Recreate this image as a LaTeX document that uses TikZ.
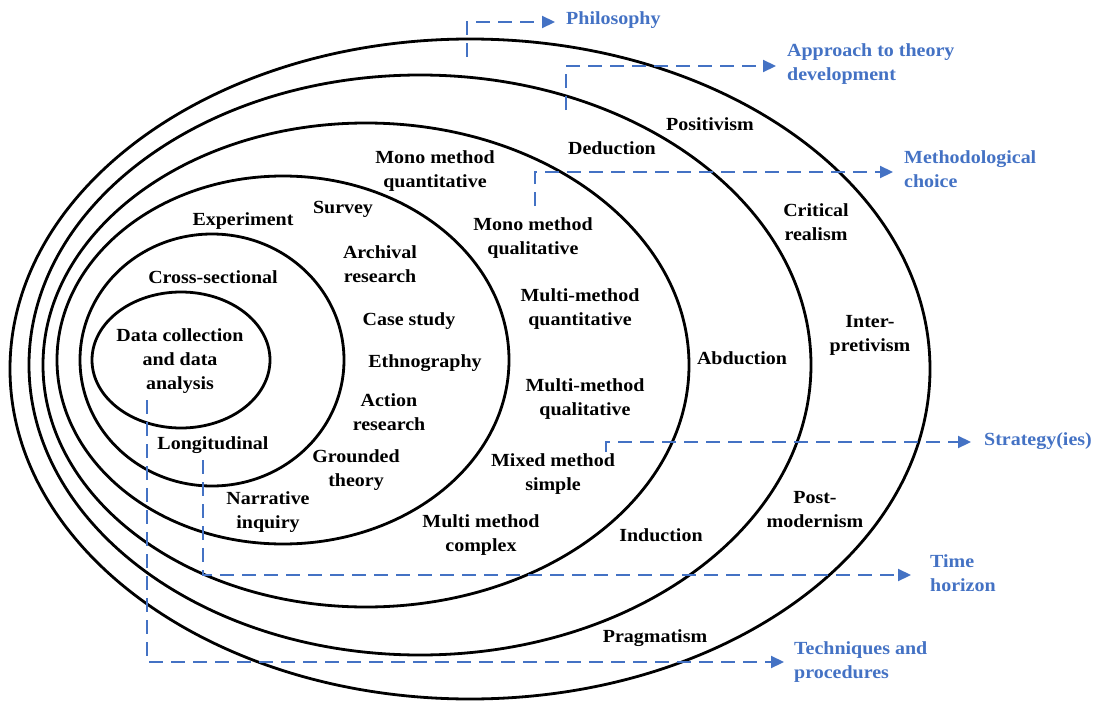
\documentclass[tikz,border=0pt]{standalone}
\usepackage{fontspec}
\setmainfont[FakeStretch=1.08]{Liberation Serif}
\usetikzlibrary{arrows.meta}
\definecolor{onionblue}{RGB}{68,114,196}
\tikzset{
  ring/.style={draw=black,line width=2.8pt},
  lbl/.style={font=\fontsize{18.5}{24}\selectfont\bfseries,align=center,inner sep=0pt,text=black},
  blbl/.style={font=\fontsize{18.5}{24}\selectfont\bfseries,align=left,inner sep=0pt,text=onionblue,anchor=west},
  conn/.style={draw=onionblue,line width=2.2pt,dash pattern=on 14pt off 8pt,-{Triangle[length=13pt,width=12pt]}},
}
\begin{document}
\begin{tikzpicture}[x=1pt,y=-1pt]
\useasboundingbox (0,0) rectangle (1101,701);
% rings
\draw[ring] (470,369) ellipse [x radius=460pt, y radius=330pt];
\draw[ring] (420,365) ellipse [x radius=391pt, y radius=290pt];
\draw[ring] (366,365) ellipse [x radius=323pt, y radius=242pt];
\draw[ring] (283,360) ellipse [x radius=226pt, y radius=184pt];
\draw[ring] (212,360) ellipse [x radius=132pt, y radius=126pt];
\draw[ring] (181,360) ellipse [x radius=89pt, y radius=68pt];
% black labels
\node[lbl] (positivism) at (710,124) {Positivism};
\node[lbl] (deduction) at (612,148) {Deduction};
\node[lbl] (monoquant) at (435,171) {Mono method\\quantitative};
\node[lbl] (survey) at (343,209) {Survey};
\node[lbl] (experiment) at (243,221) {Experiment};
\node[lbl] (monoqual) at (533,238) {Mono method\\qualitative};
\node[lbl] (critical) at (816,222) {Critical\\realism};
\node[lbl] (archival) at (380,264) {Archival\\research};
\node[lbl] (cross) at (213,277) {Cross-sectional};
\node[lbl] (multiquant) at (580,309) {Multi-method\\quantitative};
\node[lbl] (casestudy) at (409,321) {Case study};
\node[lbl] (datacoll) at (180,361) {Data collection\\and data\\analysis};
\node[lbl] (interp) at (870,335) {Inter-\\pretivism};
\node[lbl] (abduction) at (742,358) {Abduction};
\node[lbl] (ethno) at (425,363) {Ethnography};
\node[lbl] (multiqual) at (585,399) {Multi-method\\qualitative};
\node[lbl] (action) at (389,412) {Action\\research};
\node[lbl] (longit) at (213,445) {Longitudinal};
\node[lbl] (grounded) at (356,470) {Grounded\\theory};
\node[lbl] (mixed) at (553,474) {Mixed method\\simple};
\node[lbl] (narrative) at (268,512) {Narrative\\inquiry};
\node[lbl] (multicomplex) at (481,535) {Multi method\\complex};
\node[lbl] (induction) at (661,535) {Induction};
\node[lbl] (postmod) at (815,510) {Post-\\modernism};
\node[lbl] (pragmatism) at (655,638) {Pragmatism};
% blue labels
\node[blbl] (philosophy) at (566,20) {Philosophy};
\node[blbl] (approach) at (787,64) {Approach to theory\\development};
\node[blbl] (method) at (904,169) {Methodological\\choice};
\node[blbl] (strategy) at (984,441) {Strategy(ies)};
\node[blbl] (time) at (930,573) {Time\\horizon};
\node[blbl] (tech) at (794,662) {Techniques and\\procedures};
% connector tails
\coordinate (phs) at (467,57);
\coordinate (aps) at (566,110);
\coordinate (mcs) at (535,206);
\coordinate (sts) at (606,452);
\coordinate (ths) at (203,460);
\coordinate (tps) at (147,400);
% connectors
\draw[conn] (phs) |- ([xshift=-11pt,yshift=-2pt]philosophy.west);
\draw[conn] (aps) |- ([xshift=-11pt,yshift=-2pt]approach.west);
\draw[conn] (mcs) |- ([xshift=-11pt,yshift=-3pt]method.west);
\draw[conn] (sts) |- ([xshift=-13pt,yshift=-1pt]strategy.west);
\draw[conn] (ths) |- ([xshift=-19pt,yshift=-2pt]time.west);
\draw[conn] (tps) |- ([xshift=-10pt]tech.west);
\end{tikzpicture}
\end{document}
